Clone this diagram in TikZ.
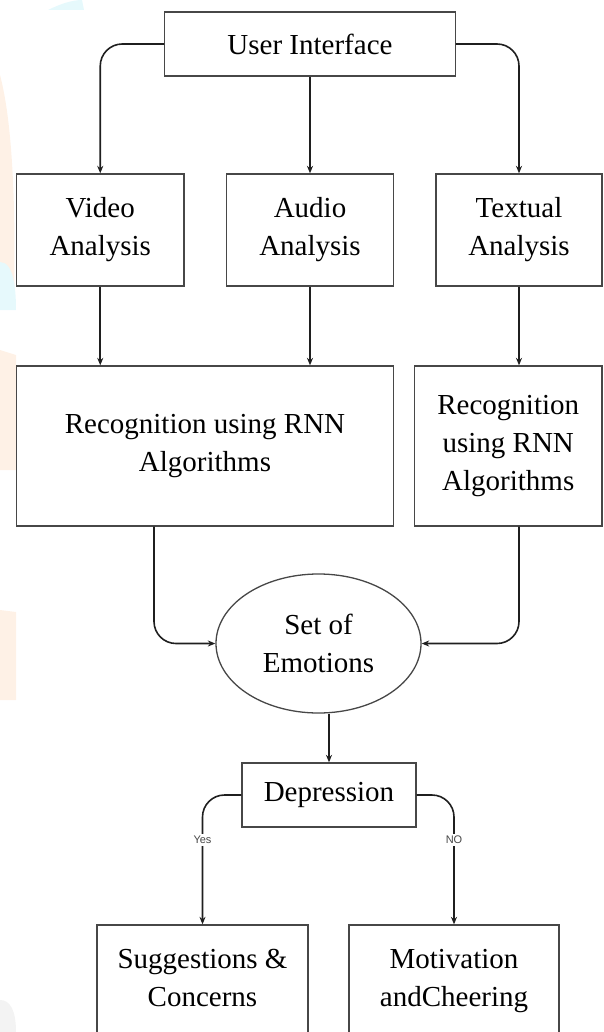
\documentclass[tikz,border=0pt]{standalone}
\usepackage{fontspec}
\setmainfont{Liberation Serif}
\newfontfamily\labelfont{Liberation Sans}
\usetikzlibrary{arrows.meta,shapes.geometric}
\definecolor{wmorange}{HTML}{FEF1E6}
\definecolor{wmcyan}{HTML}{E6F9FC}
\definecolor{wmgray}{HTML}{F3F3F3}
\begin{document}
\begin{tikzpicture}[x=1pt,y=-1pt,
  box/.style={draw=black!72,line width=1.3pt,align=center,inner sep=0pt,
    font=\fontsize{29}{38}\selectfont},
  conn/.style={draw=black!88,line width=1.6pt,-{Stealth[length=7.5pt,width=6pt]},
    rounded corners=22pt},
  lbl/.style={fill=white,font=\labelfont\fontsize{11}{13}\selectfont,
    text=black!72,inner sep=2.5pt}]
\useasboundingbox (0,0) rectangle (603,1032);
\clip (0,0) rectangle (603,1032);
% faint watermark on the left edge
\fill[wmorange] (0,75) .. controls (12,120) and (16,200) .. (14,300) -- (0,300) -- cycle;
\fill[wmorange] (0,350) -- (16,355) -- (16,470) -- (0,470) -- cycle;
\fill[wmorange] (0,610) -- (16,612) -- (16,700) -- (0,700) -- cycle;
\fill[wmcyan] (0,262) .. controls (14,262) and (16,290) .. (16,310) -- (0,310) -- cycle;
\fill[wmcyan] (48,10) .. controls (60,4) and (72,0) .. (82,0) -- (84,10) -- cycle;
\fill[wmgray] (0,1000) .. controls (10,1000) and (16,1010) .. (16,1032) -- (0,1032) -- cycle;
% nodes
\node[box,minimum width=290.5pt,minimum height=64pt] (ui) at (310,44) {User Interface};
\node[box,minimum width=167.5pt,minimum height=112pt] (video) at (100.25,230) {Video\\Analysis};
\node[box,minimum width=167pt,minimum height=112pt] (audio) at (310,230) {Audio\\Analysis};
\node[box,minimum width=166pt,minimum height=112pt] (textual) at (519,230) {Textual\\Analysis};
\node[box,minimum width=377pt,minimum height=160pt] (bigrec) at (205,446) {Recognition using RNN\\Algorithms};
\node[box,minimum width=187.5pt,minimum height=160pt] (rightrec) at (508.25,446) {Recognition\\using RNN\\Algorithms};
\node[box,ellipse,minimum width=205pt,minimum height=139pt] (emo) at (318.5,643.5) {Set of\\Emotions};
\node[box,minimum width=174pt,minimum height=64pt] (dep) at (329,795) {Depression};
\node[box,minimum width=211pt,minimum height=112pt] (sug) at (202.5,981) {Suggestions \&\\Concerns\rule[-6pt]{0pt}{6pt}};
\node[box,minimum width=210pt,minimum height=112pt] (mot) at (454,981) {Motivation\\andCheering};
% connectors
\draw[conn] (ui.west) -| (video.north);
\draw[conn] (ui.south) -- (audio.north);
\draw[conn] (ui.east) -| (textual.north);
\draw[conn] (video.south) -- (video.south |- bigrec.north);
\draw[conn] (audio.south) -- (audio.south |- bigrec.north);
\draw[conn] (textual.south) -- (textual.south |- rightrec.north);
\draw[conn] ([xshift=-51pt]bigrec.south) |- (emo.west);
\draw[conn] (rightrec.south -| textual.south) |- (emo.east);
\draw[conn] (emo.south -| dep.north) -- (dep.north);
\draw[conn] (dep.west) -| (sug.north);
\draw[conn] (dep.east) -| (mot.north);
\node[lbl] (yes) at (202.5,840) {Yes};
\node[lbl] (no) at (454,840) {NO};
\end{tikzpicture}
\end{document}
